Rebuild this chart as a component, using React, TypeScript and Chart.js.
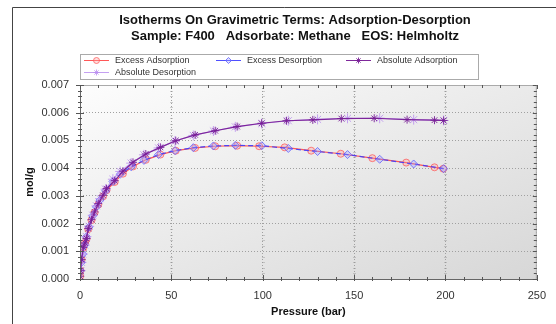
import React, { useEffect, useRef } from "react";
import { Chart, registerables } from "chart.js";

Chart.register(...registerables);

const TITLE_LINES = [
  "Isotherms On Gravimetric Terms: Adsorption-Desorption",
  "Sample: F400   Adsorbate: Methane   EOS: Helmholtz",
];
const SERIES_NAMES = ["Excess Adsorption", "Excess Desorption", "Absolute Adsorption", "Absolute Desorption"];
const X_TITLE = "Pressure (bar)";
const Y_TITLE = "mol/g";
const X_TICKS = [0, 50, 100, 150, 200, 250];
const Y_TICKS = [0, 0.001, 0.002, 0.003, 0.004, 0.005, 0.006, 0.007];

// Adsorption branch (pressure, bar)
const adsP = [0.1, 0.3, 0.9, 1.8, 2.7, 3.6, 4.5, 6.3, 8, 10, 12.6, 14.5, 19, 23.5, 29, 36, 44, 52.4, 63, 74, 86, 98, 112, 126.5, 142.7, 160, 178.5, 194, 198.8];
const excessAdsV = [0.0001, 0.0003, 0.0007, 0.00112, 0.0013, 0.00145, 0.0018, 0.00212, 0.0024, 0.00268, 0.00298, 0.0032, 0.0035, 0.0038, 0.00406, 0.0043, 0.00449, 0.00463, 0.00473, 0.00479, 0.00481, 0.00479, 0.00475, 0.00463, 0.00452, 0.00436, 0.0042, 0.00403, 0.00398];
const absAdsP = [0.1, 0.3, 0.9, 1.8, 2.7, 3.6, 4.5, 6.3, 8, 10, 12.6, 14.5, 19, 23.5, 29, 36, 44, 52.4, 63, 74, 86, 99.4, 113, 127.4, 143, 161, 179, 194, 199];
const absAdsV = [0.0001, 0.0003, 0.0007, 0.00114, 0.0013, 0.00146, 0.00182, 0.00214, 0.00242, 0.00272, 0.00302, 0.00326, 0.00355, 0.00389, 0.00421, 0.00451, 0.00475, 0.00499, 0.0052, 0.00535, 0.0055, 0.00562, 0.00571, 0.00574, 0.00579, 0.0058, 0.00575, 0.00573, 0.00572];

// Desorption branch
const desP = [199, 182.6, 164, 146.4, 130, 114, 99.5, 85, 73, 62, 52, 43, 35, 28, 22, 18, 14, 11, 9, 7, 5, 3.5, 2.5, 1.5, 0.8, 0.3];
const excessDesV = [0.00398, 0.00415, 0.00432, 0.00449, 0.0046, 0.00471, 0.00481, 0.00482, 0.0048, 0.00474, 0.00463, 0.00449, 0.00428, 0.00405, 0.00378, 0.00352, 0.00318, 0.00285, 0.0026, 0.00228, 0.00188, 0.00152, 0.00122, 0.0009, 0.0006, 0.0003];
const absDesV = [0.00572, 0.00575, 0.0058, 0.0058, 0.00576, 0.00571, 0.00561, 0.00549, 0.00534, 0.00518, 0.00498, 0.00473, 0.00448, 0.00418, 0.00388, 0.0036, 0.00324, 0.0029, 0.00264, 0.0023, 0.0019, 0.00153, 0.00123, 0.0009, 0.0006, 0.0003];

const toPts = (xs: number[], ys: number[]) => xs.map((x, i) => ({ x, y: ys[i] }));

const FONT = "'Liberation Sans', Arial, sans-serif";

const STYLES = [
  { line: "rgba(255,70,70,0.9)", pt: "rgba(255,90,90,0.75)", fill: "rgba(255,160,160,0.35)", shape: "circle", r: 3.5, dash: [] as number[] },
  { line: "rgba(60,60,255,0.9)", pt: "rgba(90,90,255,0.75)", fill: "rgba(160,160,255,0.35)", shape: "rectRot", r: 4, dash: [5, 3] },
  { line: "rgba(120,30,150,0.95)", pt: "rgba(120,30,150,0.9)", fill: "rgba(120,30,150,0.3)", shape: "star", r: 4, dash: [] as number[] },
  { line: "rgba(190,150,240,0.9)", pt: "rgba(185,140,240,0.8)", fill: "rgba(190,150,240,0.3)", shape: "star", r: 5, dash: [] as number[] },
];

function drawMarker(ctx: CanvasRenderingContext2D, shape: string, x: number, y: number, r: number, stroke: string, fill: string) {
  ctx.save();
  ctx.strokeStyle = stroke;
  ctx.fillStyle = fill;
  ctx.lineWidth = 1;
  ctx.beginPath();
  if (shape === "circle") {
    ctx.arc(x, y, r, 0, Math.PI * 2);
    ctx.fill();
    ctx.stroke();
  } else if (shape === "rectRot") {
    ctx.moveTo(x, y - r);
    ctx.lineTo(x + r, y);
    ctx.lineTo(x, y + r);
    ctx.lineTo(x - r, y);
    ctx.closePath();
    ctx.fill();
    ctx.stroke();
  } else {
    for (let k = 0; k < 4; k++) {
      const ang = (k * Math.PI) / 4;
      ctx.moveTo(x - Math.cos(ang) * r, y - Math.sin(ang) * r);
      ctx.lineTo(x + Math.cos(ang) * r, y + Math.sin(ang) * r);
    }
    ctx.stroke();
  }
  ctx.restore();
}

const decorPlugin = {
  id: "decor",
  beforeDraw(chart: any) {
    const { ctx, chartArea: a } = chart;
    ctx.save();
    ctx.fillStyle = "#ffffff";
    ctx.fillRect(0, 0, chart.width, chart.height);
    // outer frame
    ctx.strokeStyle = "#444";
    ctx.lineWidth = 1;
    ctx.beginPath();
    ctx.moveTo(12.5, chart.height);
    ctx.lineTo(12.5, 7.5);
    ctx.lineTo(chart.width, 7.5);
    ctx.stroke();
    // plot background gradient (normalised diagonal)
    ctx.translate(a.left, a.top);
    ctx.scale(a.right - a.left, a.bottom - a.top);
    const g = ctx.createLinearGradient(0, 0, 1, 1);
    g.addColorStop(0, "#fdfdfd");
    g.addColorStop(1, "#d7d7d7");
    ctx.fillStyle = g;
    ctx.fillRect(0, 0, 1, 1);
    ctx.restore();
  },
  beforeDatasetsDraw(chart: any) {
    const { ctx, scales } = chart;
    ctx.save();
    ctx.strokeStyle = "rgba(150,150,150,0.45)";
    ctx.lineWidth = 1;
    // faint ruler marks along the major grid lines
    for (const xv of X_TICKS.slice(1, -1)) {
      const x = Math.round(scales.x.getPixelForValue(xv)) + 0.5;
      for (let i = 1; i < 35; i++) {
        if (i % 5 === 0) continue;
        const y = Math.round(scales.y.getPixelForValue(i * 0.0002)) + 0.5;
        ctx.beginPath();
        ctx.moveTo(x - 1.5, y);
        ctx.lineTo(x + 1.5, y);
        ctx.stroke();
      }
    }
    ctx.restore();
  },
  afterDraw(chart: any) {
    const { ctx, chartArea: a, scales } = chart;
    ctx.save();
    // plot border
    ctx.strokeStyle = "#aaa";
    ctx.lineWidth = 1;
    ctx.strokeRect(a.left + 0.5, a.top + 0.5, a.right - a.left - 1, a.bottom - a.top);
    ctx.strokeStyle = "#666";
    ctx.beginPath();
    ctx.moveTo(a.left + 0.5, a.top);
    ctx.lineTo(a.left + 0.5, a.bottom + 0.5);
    ctx.lineTo(a.right, a.bottom + 0.5);
    ctx.stroke();
    // minor / major tick marks on all four sides
    ctx.strokeStyle = "#555";
    for (let v = 0; v <= 250; v += 10) {
      const x = Math.round(scales.x.getPixelForValue(v)) + 0.5;
      const major = v % 50 === 0;
      ctx.beginPath();
      ctx.moveTo(x, a.bottom - (major ? 4 : 2));
      ctx.lineTo(x, a.bottom + 2);
      ctx.moveTo(x, a.top);
      ctx.lineTo(x, a.top + (major ? 4 : 3));
      ctx.stroke();
    }
    for (let i = 0; i <= 35; i++) {
      const y = Math.round(scales.y.getPixelForValue(i * 0.0002)) + 0.5;
      const major = i % 5 === 0;
      ctx.beginPath();
      ctx.moveTo(a.left - (major ? 4 : 2), y);
      ctx.lineTo(a.left + (major ? 4 : 2), y);
      ctx.moveTo(a.right - (major ? 4 : 3), y);
      ctx.lineTo(a.right, y);
      ctx.stroke();
    }
    // titles
    ctx.fillStyle = "#111";
    ctx.font = `bold 13px ${FONT}`;
    ctx.textAlign = "center";
    ctx.textBaseline = "middle";
    ctx.fillText(TITLE_LINES[0], 295, 20);
    ctx.fillText(TITLE_LINES[1], 295, 36);
    // legend box
    const lx = 80.5, ly = 54.5, lw = 398, lh = 25;
    ctx.fillStyle = "#fff";
    ctx.fillRect(lx, ly, lw, lh);
    ctx.strokeStyle = "#aaa";
    ctx.strokeRect(lx, ly, lw, lh);
    const items = [
      { x: 84, y: 60.5 },
      { x: 216, y: 60.5 },
      { x: 346, y: 60.5 },
      { x: 84, y: 72.5 },
    ];
    ctx.font = `9px ${FONT}`;
    ctx.textAlign = "left";
    items.forEach((it, i) => {
      const s = STYLES[i];
      ctx.strokeStyle = s.line;
      ctx.lineWidth = 1;
      ctx.beginPath();
      ctx.moveTo(it.x, it.y);
      ctx.lineTo(it.x + 25, it.y);
      ctx.stroke();
      drawMarker(ctx, s.shape, it.x + 12.5, it.y, 3, s.pt, s.fill);
      ctx.fillStyle = "#333";
      ctx.fillText(SERIES_NAMES[i], it.x + 31, it.y + 0.5);
    });
    ctx.restore();
  },
};

export default function App() {
  const ref = useRef<HTMLCanvasElement | null>(null);
  useEffect(() => {
    if (!ref.current) return;
    const sets = [
      toPts(adsP, excessAdsV),
      toPts(desP, excessDesV),
      toPts(absAdsP, absAdsV),
      toPts(desP, absDesV),
    ];
    const orders = [3, 2, 0, 1];
    const chart = new Chart(ref.current, {
      type: "line",
      data: {
        datasets: sets.map((d, i) => ({
          label: SERIES_NAMES[i],
          data: d,
          borderColor: STYLES[i].line,
          borderWidth: 1.2,
          borderDash: STYLES[i].dash,
          pointStyle: STYLES[i].shape as any,
          pointRadius: STYLES[i].r,
          pointBorderColor: STYLES[i].pt,
          pointBackgroundColor: STYLES[i].fill,
          pointBorderWidth: 1,
          tension: 0,
          fill: false,
          order: orders[i],
        })),
      },
      options: {
        animation: false,
        responsive: false,
        events: [],
        layout: { padding: { top: 85, right: 15, left: 0, bottom: 0 } },
        plugins: { legend: { display: false }, title: { display: false }, tooltip: { enabled: false } },
        scales: {
          x: {
            type: "linear",
            min: 0,
            max: 250,
            afterFit: (s: any) => { s.height = 45; },
            afterBuildTicks: (s: any) => { s.ticks = X_TICKS.map((v) => ({ value: v })); },
            ticks: { color: "#333", font: { size: 11, family: FONT }, padding: 10, maxRotation: 0 },
            grid: { color: "#a0a0a0", drawTicks: false, lineWidth: 1 },
            border: { display: false, dash: [1, 2] },
            title: { display: true, text: X_TITLE, color: "#111", font: { size: 11, weight: "bold", family: FONT }, padding: { top: 0, bottom: 5 } },
          },
          y: {
            type: "linear",
            min: 0,
            max: 0.007,
            afterFit: (s: any) => { s.width = 80; },
            afterBuildTicks: (s: any) => { s.ticks = Y_TICKS.map((v) => ({ value: v })); },
            ticks: { color: "#333", font: { size: 11, family: FONT }, padding: 11, callback: (v: any) => Number(v).toFixed(3) },
            grid: { color: "#a0a0a0", drawTicks: false, lineWidth: 1 },
            border: { display: false, dash: [1, 2] },
            title: { display: true, text: Y_TITLE, color: "#111", font: { size: 11, weight: "bold", family: FONT }, padding: { top: 23, bottom: 0 } },
          },
        },
      } as any,
      plugins: [decorPlugin],
    });
    return () => chart.destroy();
  }, []);
  return (
    <div style={{ position: "fixed", left: 0, top: 0, width: 556, height: 324 }}>
      <canvas ref={ref} width={556} height={324} style={{ width: 556, height: 324, display: "block" }} />
    </div>
  );
}
